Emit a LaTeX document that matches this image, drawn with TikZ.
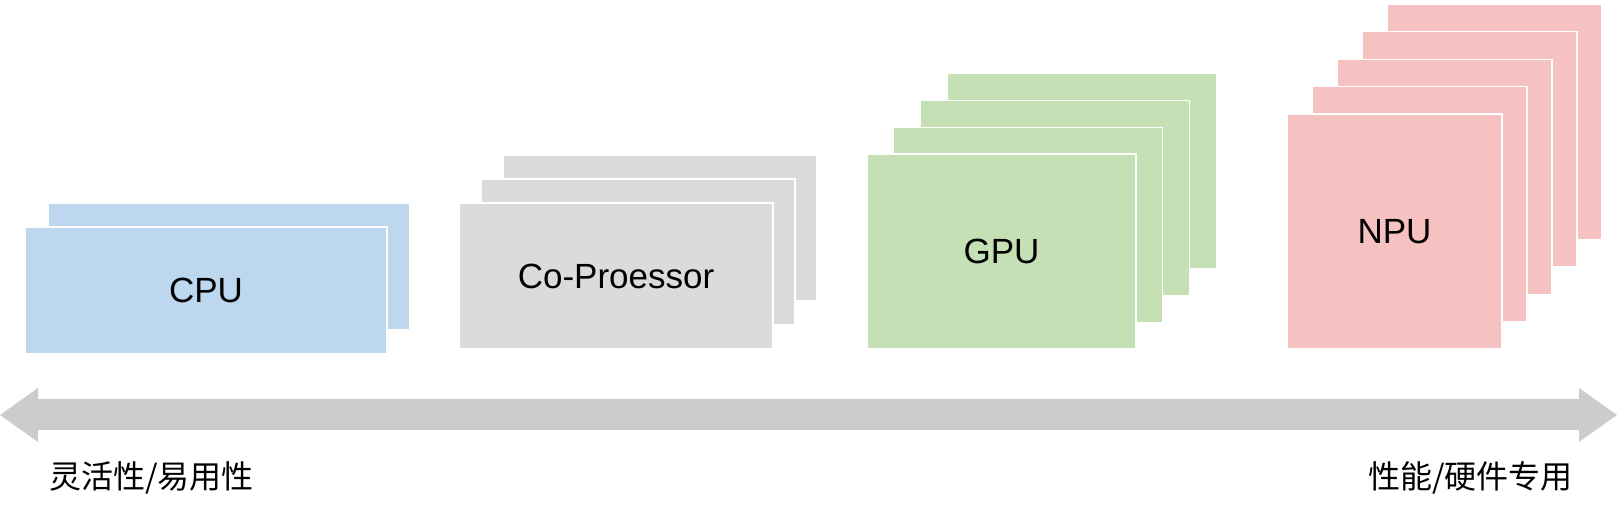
\documentclass[tikz,border=0pt]{standalone}
\usepackage{fontspec}
\setmainfont{Liberation Sans}
\newfontfamily\cjk{Noto Sans CJK SC}
\usetikzlibrary{arrows.meta, positioning}
\definecolor{mblue}{HTML}{BDD7EE}
\definecolor{mgray}{HTML}{DBDBDB}
\definecolor{mgreen}{HTML}{C5E0B4}
\definecolor{mpink}{HTML}{F5C2C1}
\definecolor{maxis}{HTML}{CCCCCC}
\tikzstyle{card} = [rectangle, draw = white, line width = 1.2pt, inner sep = 0pt, text = black, font = \fontsize{35}{40}\selectfont]
\tikzstyle{cpubox} = [card, minimum width = 362pt, minimum height = 127pt, fill = mblue]
\tikzstyle{copbox} = [card, minimum width = 314pt, minimum height = 146pt, fill = mgray]
\tikzstyle{gpubox} = [card, minimum width = 269pt, minimum height = 195pt, fill = mgreen]
\tikzstyle{npubox} = [card, minimum width = 215pt, minimum height = 235pt, fill = mpink]
\tikzstyle{axis} = [line width = 31pt, draw = maxis, {Triangle[length=38pt, width=54pt, line width=0pt]}-{Triangle[length=38pt, width=54pt, line width=0pt]}]
\tikzstyle{caption} = [font = \cjk\fontsize{32}{37}\selectfont, inner sep = 0pt]

\begin{document}
\begin{tikzpicture}[x=1pt, y=-1pt]
\useasboundingbox (0,0) rectangle (1618,510);
%CPU stack
\foreach \k in {1}
  \node (cpu\k) [cpubox] at (206+23*\k, 290.5-24*\k) {};
\node (cpu) [cpubox] at (206,290.5) {CPU};
%Co-Processor stack
\foreach \k in {2,1}
  \node (cop\k) [copbox] at (616+22*\k, 276-24*\k) {};
\node (cop) [copbox] at (616,276) {Co-Proessor};
%GPU stack
\foreach \k in {3,...,1}
  \node (gpu\k) [gpubox] at (1001.5+26.7*\k, 251.5-26.7*\k) {};
\node (gpu) [gpubox] at (1001.5,251.5) {GPU};
%NPU stack
\foreach \k in {4,...,1}
  \node (npu\k) [npubox] at (1394.5+25*\k, 231.5-27.4*\k) {};
\node (npu) [npubox] at (1394.5,231.5) {NPU};
%Axis
\coordinate (west) at (0,415);
\coordinate (east) at (1617,415);
\draw [axis] (west) -- (east);
\node (easy) [caption, anchor = west] at (49,478) {灵活性/易用性};
\node (fast) [caption, anchor = east] at (1573,478) {性能/硬件专用};
\end{tikzpicture}
\end{document}
